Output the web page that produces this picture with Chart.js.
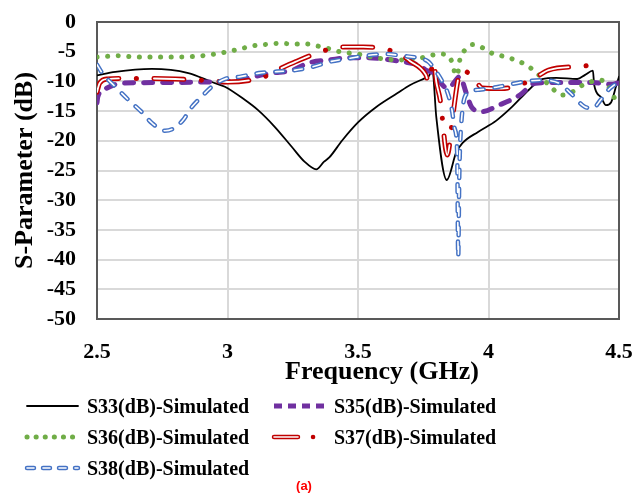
<!DOCTYPE html>
<html>
<head>
<meta charset="utf-8">
<script src="https://cdn.jsdelivr.net/npm/chart.js@4.4.0/dist/chart.umd.min.js"></script>
<style>
  body { margin: 0; background: #fff; }
  #wrap { width: 637px; height: 494px; }
</style>
</head>
<body>
<div id="wrap"><canvas id="sparam-chart"></canvas></div>
<script>
// values (GHz / dB)
const s33Freq = [2.5, 2.57, 2.71, 2.85, 2.94, 2.99, 3.066, 3.116, 3.18, 3.246, 3.295, 3.34, 3.37, 3.39, 3.44, 3.5, 3.57, 3.65, 3.7, 3.755, 3.77, 3.785, 3.8, 3.84, 3.876, 3.9, 3.96, 4.03, 4.09, 4.155, 4.205, 4.26, 4.34, 4.37, 4.4, 4.405, 4.43, 4.45, 4.47, 4.49, 4.5];
const s33Db = [-9.0, -8.4, -7.9, -8.6, -10.1, -10.9, -13.1, -14.8, -17.6, -21, -23.5, -24.8, -23.5, -22.8, -19.9, -16.9, -14.3, -12, -10.6, -9.5, -9.2, -8.1, -16, -26.6, -22, -20.4, -18.5, -16.6, -14.3, -11.4, -9.6, -9.4, -9.6, -8.9, -8.2, -10.6, -12.6, -14, -13.5, -10.6, -9.2];

const s35Freq = [2.5, 2.503, 2.53, 2.595, 2.75, 2.92, 3.0, 3.17, 3.25, 3.31, 3.39, 3.47, 3.54, 3.61, 3.67, 3.735, 3.76, 3.79, 3.84, 3.86, 3.89, 3.915, 3.935, 3.975, 4.04, 4.12, 4.18, 4.26, 4.4, 4.47, 4.5];
const s35Db = [-13.6, -12.6, -11.3, -10.3, -10.2, -10.1, -10.0, -8.6, -8.1, -6.9, -6.4, -6.0, -6.0, -6.3, -6.7, -7.3, -8.1, -8.6, -11.1, -10.6, -9.2, -12, -14.3, -15.1, -14, -12.3, -10.3, -10.2, -10.2, -10.5, -10.2];

const s36Freq = [2.5, 2.58, 2.66, 2.8, 2.92, 3.0, 3.06, 3.1, 3.14, 3.2, 3.26, 3.3, 3.34, 3.38, 3.42, 3.46, 3.5, 3.54, 3.58, 3.66, 3.72, 3.78, 3.82, 3.86, 3.87, 3.88, 3.89, 3.91, 3.94, 3.98, 4.01, 4.05, 4.09, 4.13, 4.16, 4.19, 4.22, 4.25, 4.28, 4.32, 4.35, 4.39, 4.43, 4.46, 4.48, 4.5];
const s36Db = [-5.9, -5.7, -5.9, -5.9, -5.6, -5.0, -4.4, -4.0, -3.8, -3.6, -3.7, -3.7, -4.0, -4.4, -4.9, -5.2, -5.4, -5.8, -6.1, -6.4, -6.3, -5.6, -5.4, -6.7, -8.4, -9.0, -6.4, -4.7, -3.8, -4.4, -5.2, -5.7, -6.2, -6.9, -7.7, -8.8, -10.1, -11.4, -12.3, -11.8, -10.9, -10.1, -9.8, -10.9, -12.6, -14];

const s37Freq = [2.5, 2.51, 2.54, 2.6, 2.68, 2.8, 2.94, 3.0, 3.135, 3.2, 3.26, 3.38, 3.45, 3.52, 3.65, 3.7, 3.76, 3.77, 3.79, 3.8, 3.815, 3.842, 3.853, 3.86, 3.896, 3.94, 3.976, 4.05, 4.106, 4.175, 4.23, 4.37, 4.435];
const s37Db = [-11.8, -10.3, -9.6, -9.5, -9.5, -9.6, -9.9, -10.1, -9.3, -7.9, -6.7, -4.7, -4.2, -4.2, -5.2, -6.6, -8.9, -10.1, -6.7, -10.1, -13.1, -22.4, -19.9, -17, -8.1, -9.2, -11.1, -11.2, -10.8, -9.5, -8.1, -7.4, -6.9];

const s38Freq = [2.5, 2.52, 2.57, 2.62, 2.67, 2.71, 2.76, 2.79, 2.83, 2.86, 2.9, 2.94, 2.99, 3.05, 3.12, 3.26, 3.33, 3.39, 3.47, 3.54, 3.61, 3.67, 3.735, 3.77, 3.8, 3.82, 3.84, 3.86, 3.87, 3.88, 3.884, 3.888, 3.895, 3.92, 3.965, 4.04, 4.13, 4.2, 4.27, 4.315, 4.37, 4.4, 4.43, 4.46, 4.49, 4.5];
const s38Db = [-7.2, -8.6, -10.9, -13.1, -15.1, -17, -18.3, -18, -16.5, -14.5, -12.6, -10.9, -9.6, -9.2, -8.6, -8.1, -7.5, -6.7, -6.1, -5.6, -5.4, -5.7, -6.1, -6.7, -8.4, -9.8, -11.5, -14.8, -17.9, -22, -39.6, -26, -17.5, -12, -11.4, -10.9, -10.1, -9.8, -10.3, -12, -14.3, -14.5, -13.1, -11.4, -10.3, -9.8];

const seriesLabels = ['S33(dB)-Simulated', 'S35(dB)-Simulated', 'S36(dB)-Simulated', 'S37(dB)-Simulated', 'S38(dB)-Simulated'];

const toPoints = (xs, ys) => xs.map((x, i) => ({ x: x, y: ys[i] }));

function lineSet(label, xs, ys, color, width, dash) {
    return {
        label: label,
        data: toPoints(xs, ys),
        borderColor: color,
        borderWidth: width,
        borderDash: dash,
        borderCapStyle: 'round',
        borderJoinStyle: 'round',
        pointRadius: 0,
        fill: false,
        cubicInterpolationMode: 'monotone'
    };
}

// first dataset is drawn on top; the white copies give the double-line look
const datasets = [
    lineSet('inner38', s38Freq, s38Db, '#ffffff', 1.6, [8, 11]),
    lineSet(seriesLabels[4], s38Freq, s38Db, '#4472c4', 4.5, [8, 11]),
    lineSet('inner37', s37Freq, s37Db, '#ffffff', 1.8, [30, 35.1]),
    lineSet(seriesLabels[3], s37Freq, s37Db, '#c00000', 5, [30, 17.5, 0.1, 17.5]),
    lineSet(seriesLabels[2], s36Freq, s36Db, '#70ad47', 5, [0.1, 10.5]),
    lineSet(seriesLabels[1], s35Freq, s35Db, '#7030a0', 5, [9, 10]),
    lineSet(seriesLabels[0], s33Freq, s33Db, '#000000', 1.8, [])
];

const serif = 'Liberation Serif';

// legend samples, laid out like the original (2 columns)
const legendItems = [
    { text: seriesLabels[0], col: 0, row: 0, color: '#000000', width: 1.8, dash: [] },
    { text: seriesLabels[1], col: 1, row: 0, color: '#7030a0', width: 5, dash: [8, 6], cap: 'butt' },
    { text: seriesLabels[2], col: 0, row: 1, color: '#70ad47', width: 5, dash: [0.1, 9] },
    { text: seriesLabels[3], col: 1, row: 1, color: '#c00000', width: 4.5, dash: [24, 15, 0.1, 40], inner: [24, 55.1] },
    { text: seriesLabels[4], col: 0, row: 2, color: '#4472c4', width: 4.5, dash: [7, 9], inner: [7, 9] }
];

const decor = {
    id: 'decor',
    beforeDatasetsDraw(chart) {
        const { ctx, chartArea: a } = chart;
        ctx.save();
        ctx.strokeStyle = '#595959';
        ctx.lineWidth = 2;
        ctx.strokeRect(a.left, a.top, a.right - a.left, a.bottom - a.top);
        ctx.restore();
    },
    afterDraw(chart) {
        const ctx = chart.ctx;
        ctx.save();
        ctx.fillStyle = '#000';
        ctx.font = 'bold 26px ' + serif;
        ctx.textAlign = 'center';
        ctx.textBaseline = 'alphabetic';
        ctx.fillText('Frequency (GHz)', 382, 379);

        ctx.font = 'bold 20px ' + serif;
        ctx.textAlign = 'left';
        for (const item of legendItems) {
            const x0 = item.col === 0 ? 25 : 272;
            const base = 413 + item.row * 31;
            const y = base - 7;
            ctx.lineCap = item.cap || 'round';
            ctx.strokeStyle = item.color;
            ctx.lineWidth = item.width;
            ctx.setLineDash(item.dash);
            ctx.beginPath();
            ctx.moveTo(x0 + 2, y);
            ctx.lineTo(x0 + 53, y);
            ctx.stroke();
            if (item.inner) {
                ctx.lineCap = 'round';
                ctx.strokeStyle = '#ffffff';
                ctx.lineWidth = 1.6;
                ctx.setLineDash(item.inner);
                ctx.beginPath();
                ctx.moveTo(x0 + 2, y);
                ctx.lineTo(x0 + 53, y);
                ctx.stroke();
            }
            ctx.setLineDash([]);
            ctx.fillStyle = '#000';
            ctx.fillText(item.text, x0 + 62, base);
        }

        ctx.fillStyle = '#ff0000';
        ctx.font = 'bold 13px "Liberation Sans"';
        ctx.textAlign = 'center';
        ctx.fillText('(a)', 304, 490);
        ctx.restore();
    }
};

const ctx = document.getElementById('sparam-chart').getContext('2d');
// eslint-disable-next-line no-undef
new Chart(ctx, {
    type: 'line',
    data: { datasets: datasets },
    plugins: [decor],
    options: {
        responsive: true,
        maintainAspectRatio: false,
        animation: false,
        layout: { padding: { top: 22, right: 18, left: 0, bottom: 0 } },
        plugins: {
            legend: { display: false },
            tooltip: { enabled: false }
        },
        scales: {
            x: {
                type: 'linear',
                min: 2.5,
                max: 4.5,
                afterFit: (scale) => {
                    scale.height = 175;
                    scale.paddingLeft = 0;
                    scale.paddingRight = 0;
                },
                ticks: {
                    stepSize: 0.5,
                    autoSkip: false,
                    padding: 20,
                    maxRotation: 0,
                    color: '#000',
                    callback: (v) => String(v),
                    font: { family: serif, size: 22, weight: 'bold' }
                },
                grid: { color: '#d9d9d9', lineWidth: 2, drawTicks: false },
                border: { display: false }
            },
            y: {
                min: -50,
                max: 0,
                afterFit: (scale) => {
                    scale.width = 97;
                    scale.paddingTop = 0;
                    scale.paddingBottom = 0;
                },
                ticks: {
                    stepSize: 5,
                    autoSkip: false,
                    padding: 21,
                    color: '#000',
                    callback: (v) => String(v),
                    font: { family: serif, size: 22, weight: 'bold' }
                },
                grid: { color: '#d9d9d9', lineWidth: 2, drawTicks: false },
                border: { display: false },
                title: {
                    display: true,
                    text: 'S-Parameter (dB)',
                    color: '#000',
                    padding: { top: 10 },
                    font: { family: serif, size: 26, weight: 'bold' }
                }
            }
        }
    }
});
</script>
</body>
</html>
